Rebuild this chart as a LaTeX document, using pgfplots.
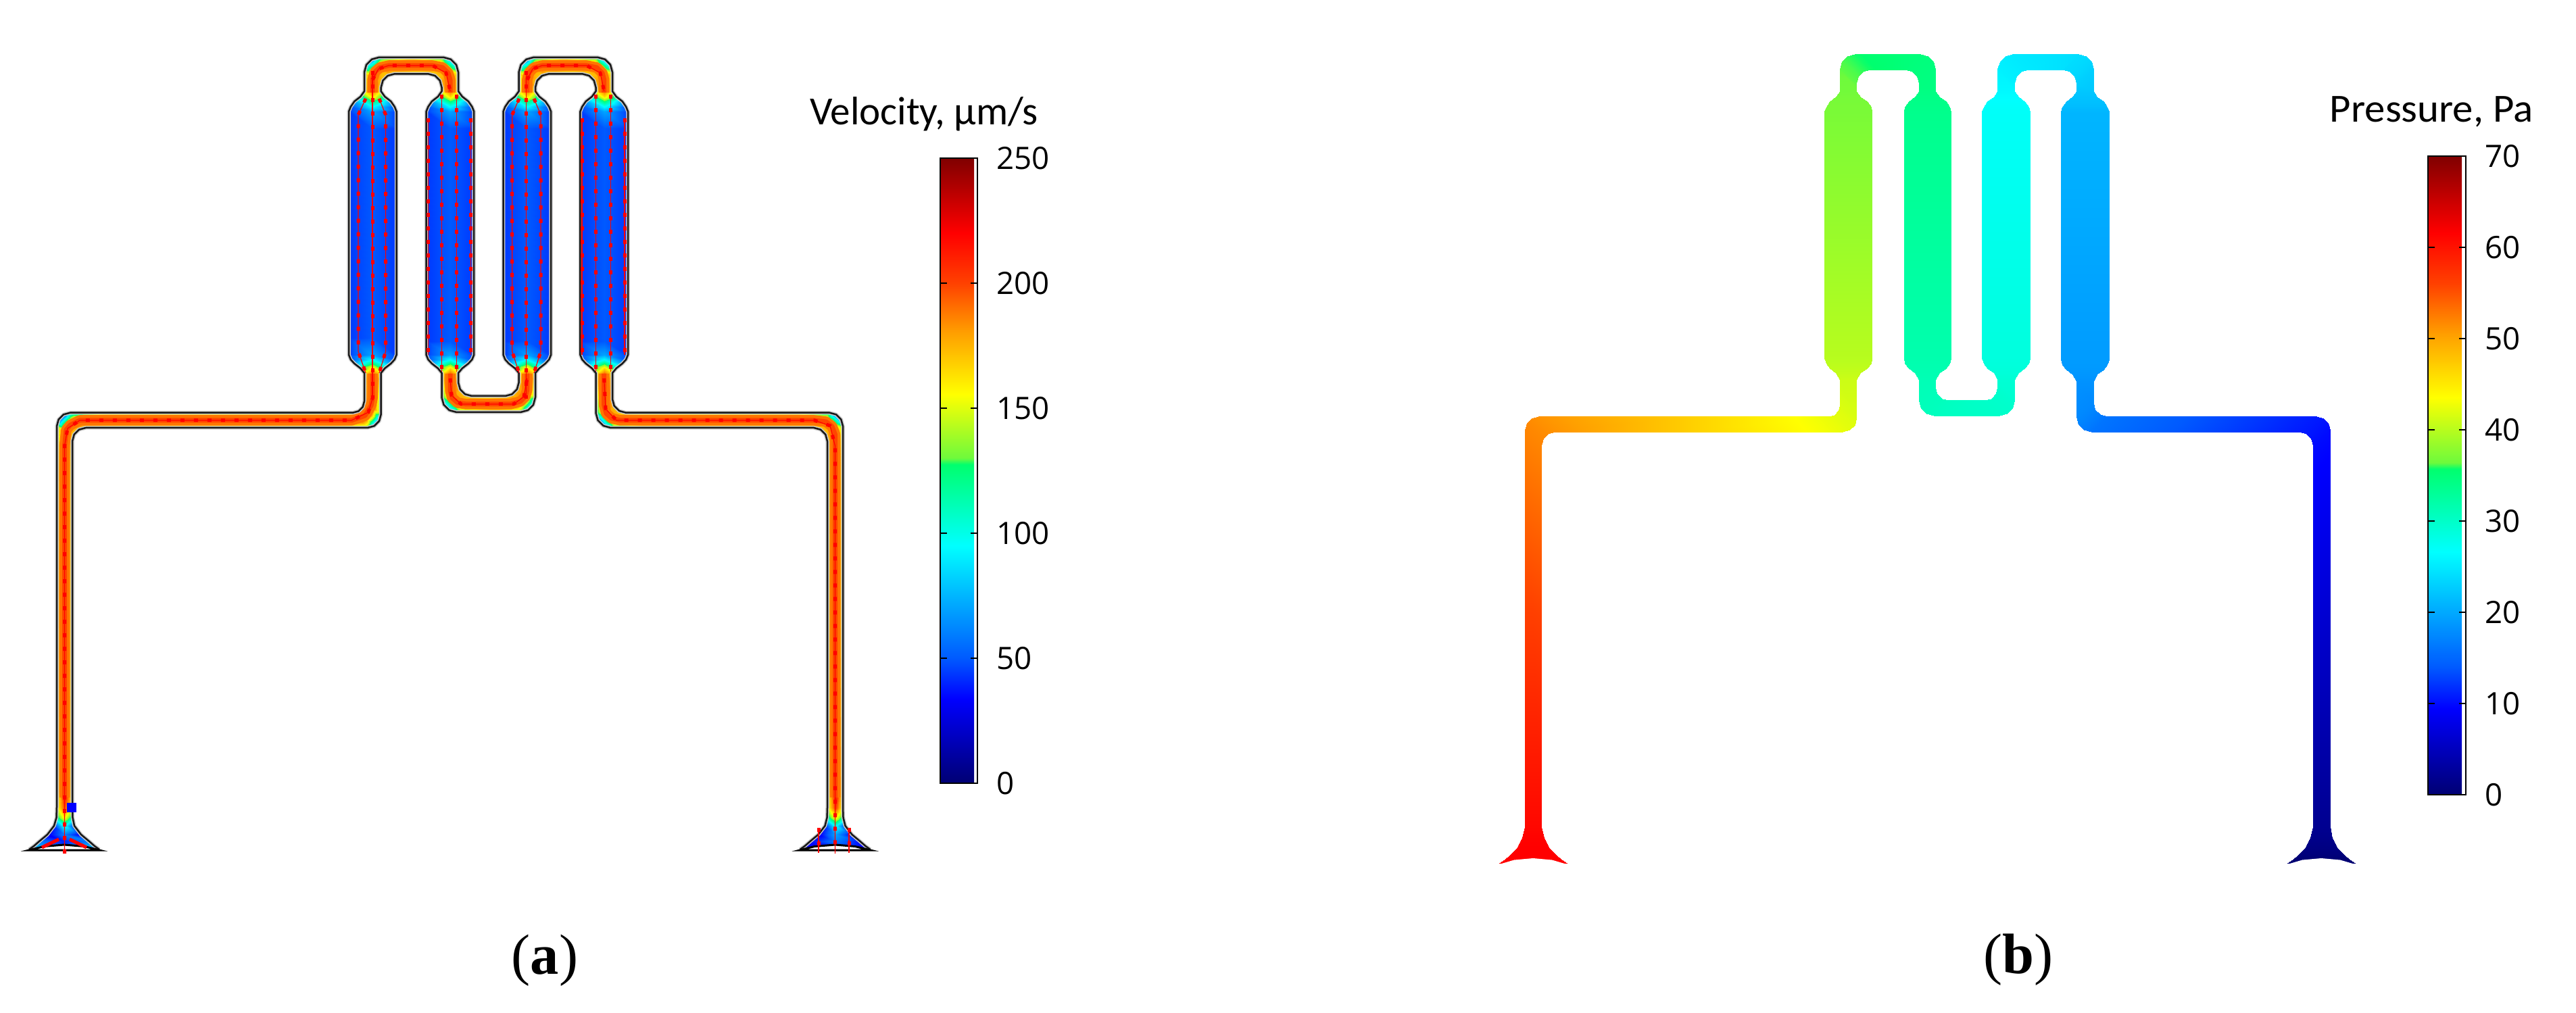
\documentclass[border=0pt]{standalone}
\usepackage{fontspec}
\usepackage{pgfplots}
\usepackage{pgfplotstable}
\pgfplotsset{compat=1.18}
\setmainfont{Open Sans}
\newfontfamily\capf{Carlito}
\newfontfamily\subf{Liberation Serif}

% rainbow
\definecolor{coreO}{RGB}{255,118,0}
\definecolor{coreR}{RGB}{255,70,0}
\newcount\wallk
\pgfplotsset{
  colormap={cbar}{rgb255(0pt)=(0,0,115); rgb255(135pt)=(0,0,255); rgb255(200pt)=(0,90,255);
    rgb255(380pt)=(0,255,255); rgb255(510pt)=(0,255,110); rgb255(520pt)=(110,250,60);
    rgb255(622pt)=(255,255,0); rgb255(720pt)=(255,160,0); rgb255(800pt)=(255,65,0);
    rgb255(880pt)=(255,0,0); rgb255(1000pt)=(128,0,0)},
  page/.style={at={(0,0)},anchor=south west,scale only axis,width=38.11cm,height=14.99cm,
    xmin=0,xmax=3811,ymin=0,ymax=1499,y dir=reverse,hide axis,clip=false},
  bar/.style={at={(parent axis.north west)},anchor=north west,scale only axis,
    tick align=inside,tickpos=both,yticklabel pos=right,major tick length=0.1cm,
    tick style={black,line width=0.6pt},axis line style={black,line width=0.8pt},
    yticklabel style={xshift=0.16cm,font=\fontsize{13}{13}\selectfont,/pgf/number format/assume math mode=true}},
  ribbon/.style={surf,shader=interp,point meta=explicit},
  % keep one wall of the three-column station table
  wall/.style={no marks,line join=round,filter discard warning=false,
    x filter/.code={\wallk=\coordindex\relax\divide\wallk by 3 \multiply\wallk by 3 \advance\wallk by #1\relax
      \ifnum\wallk=\coordindex\relax\else\def\pgfmathresult{}\fi}},
}
\tikzset{
  flow/.style={red,line width=0.012cm,no marks},
  dots/.style={red,line width=0.05cm,no marks,dash pattern=on 0.06cm off 0.14cm},
}
\newcommand{\stream}[1]{\addplot[flow] coordinates {#1};\addplot[dots] coordinates {#1};}
\newcommand{\core}[1]{\addplot[coreO,line width=0.155cm,no marks,line join=round] coordinates {#1};
  \addplot[coreR,line width=0.07cm,no marks,line join=round] coordinates {#1};}

% velocity panel: each row is one station along the channel, wall / centre / wall
\pgfplotstableread[row sep=\\]{
x y m\\
43 1257 25\\ 95 1257 30\\ 147 1257 25\\
50 1252 80\\ 95 1252 40\\ 140 1252 80\\
58 1245 60\\ 95 1245 40\\ 132 1245 60\\
70 1235 30\\ 95 1235 60\\ 120 1235 30\\
80 1222 40\\ 95 1222 100\\ 110 1222 40\\
83.5 1210 110\\ 95.5 1210 160\\ 107.5 1210 110\\
84 1195 150\\ 95.5 1195 200\\ 107 1195 150\\
84 1170 155\\ 95.5 1170 220\\ 107 1170 155\\
84 690 155\\ 95.5 690 205\\ 107 690 155\\
84 630.7 140\\ 95.5 641.85 203\\ 107 653 165\\
86.7 620.7 50\\ 98.2 631.85 185\\ 109.7 643 170\\
94 613.4 40\\ 105.5 624.55 185\\ 117 635.7 170\\
104 610.7 90\\ 115.5 621.85 203\\ 127 633 165\\
160 610.7 155\\ 160 621.85 202\\ 160 633 155\\
480 610.7 155\\ 480 621.85 202\\ 480 633 155\\
522 610.7 160\\ 532.85 621.85 202\\ 543.7 633 130\\
530.5 608.4 175\\ 542.1 619.35 190\\ 553.7 630.3 60\\
536.7 602.2 175\\ 548.85 612.6 190\\ 561 623 50\\
539 593.7 175\\ 551.35 603.35 203\\ 563.7 613 120\\
539 560 165\\ 551.3 560 208\\ 563.6 560 165\\
539 552 160\\ 551.3 552 190\\ 563.6 552 160\\
533.3 545 110\\ 551.3 545 165\\ 569.3 545 110\\
524.3 538 70\\ 551.3 538 125\\ 578.3 538 70\\
518.8 532 48\\ 551.3 532 95\\ 583.8 532 48\\
516 525 44\\ 551.3 525 70\\ 586.6 525 44\\
516 500 44\\ 551.3 500 50\\ 586.6 500 44\\
516 190 44\\ 551.3 190 50\\ 586.6 190 44\\
516 165 44\\ 551.3 165 70\\ 586.6 165 44\\
518.8 158 48\\ 551.3 158 95\\ 583.8 158 48\\
524.3 150 70\\ 551.3 150 125\\ 578.3 150 70\\
533.3 143 110\\ 551.3 143 165\\ 569.3 143 110\\
539 135 160\\ 551.3 135 190\\ 563.6 135 160\\
539 106.8 150\\ 551.35 118.05 205\\ 563.7 129.3 168\\
542 95.8 80\\ 554.2 107.55 190\\ 566.4 119.3 168\\
550 87.8 60\\ 561.85 99.9 180\\ 573.7 112 168\\
561 84.8 110\\ 572.35 97.05 203\\ 583.7 109.3 165\\
612 84.8 155\\ 612 97.05 205\\ 612 109.3 155\\
656 84.8 120\\ 644.75 97.05 205\\ 633.5 109.3 165\\
667 87.8 70\\ 655.25 99.9 185\\ 643.5 112 168\\
675 95.8 80\\ 662.9 107.55 180\\ 650.8 119.3 175\\
678 106.8 150\\ 665.75 118.05 195\\ 653.5 129.3 175\\
678 135 160\\ 665.9 135 190\\ 653.5 135 160\\
683.9 143 110\\ 665.9 143 165\\ 647.9 143 110\\
692.9 150 70\\ 665.9 150 125\\ 638.9 150 70\\
698.4 158 48\\ 665.9 158 95\\ 633.4 158 48\\
701.2 165 44\\ 665.9 165 70\\ 630.6 165 44\\
701.2 190 44\\ 665.9 190 50\\ 630.6 190 44\\
701.2 505 44\\ 665.9 505 50\\ 630.6 505 44\\
701.2 525 44\\ 665.9 525 70\\ 630.6 525 44\\
698.4 532 48\\ 665.9 532 95\\ 633.4 532 48\\
692.9 538 70\\ 665.9 538 125\\ 638.9 538 70\\
683.9 545 110\\ 665.9 545 165\\ 647.9 545 110\\
678 552 160\\ 665.9 552 190\\ 653.5 552 160\\
678 560 165\\ 665.9 560 208\\ 653.5 560 165\\
678 566 175\\ 665.75 577 203\\ 653.5 588 120\\
680.7 576 170\\ 668.6 587.5 185\\ 656.5 599 70\\
688 583.3 170\\ 676.25 595.15 185\\ 664.5 607 70\\
698 586 165\\ 686.75 598 203\\ 675.5 610 120\\
725 586 155\\ 725 598 205\\ 725 610 155\\
747.6 586 165\\ 758.8 598 205\\ 770 610 130\\
757.6 583.3 170\\ 769.3 595.15 190\\ 781 607 80\\
764.9 576 175\\ 776.95 587.5 190\\ 789 599 70\\
767.6 566 175\\ 779.8 577 203\\ 792 588 130\\
767.6 560 165\\ 779.8 560 208\\ 792 560 165\\
767.6 552 160\\ 779.8 552 190\\ 792 552 160\\
761.8 545 110\\ 779.8 545 165\\ 797.8 545 110\\
752.8 538 70\\ 779.8 538 125\\ 806.8 538 70\\
747.3 532 48\\ 779.8 532 95\\ 812.3 532 48\\
744.5 525 44\\ 779.8 525 70\\ 815.1 525 44\\
744.5 505 44\\ 779.8 505 50\\ 815.1 505 44\\
744.5 190 44\\ 779.8 190 50\\ 815.1 190 44\\
744.5 165 44\\ 779.8 165 70\\ 815.1 165 44\\
747.3 158 48\\ 779.8 158 95\\ 812.3 158 48\\
752.8 150 70\\ 779.8 150 125\\ 806.8 150 70\\
761.8 143 110\\ 779.8 143 165\\ 797.8 143 110\\
767.6 135 160\\ 779.8 135 190\\ 792 135 160\\
767.6 106.8 150\\ 779.8 118.05 205\\ 792 129.3 168\\
770.6 95.8 80\\ 782.65 107.55 190\\ 794.7 119.3 168\\
778.6 87.8 60\\ 790.3 99.9 180\\ 802 112 168\\
789.6 84.8 110\\ 800.8 97.05 203\\ 812 109.3 165\\
838 84.8 155\\ 838 97.05 205\\ 838 109.3 155\\
884 84.8 120\\ 872.75 97.05 205\\ 861.5 109.3 165\\
895 87.8 70\\ 883.25 99.9 185\\ 871.5 112 168\\
903 95.8 80\\ 890.9 107.55 180\\ 878.8 119.3 175\\
906 106.8 150\\ 893.75 118.05 195\\ 881.5 129.3 175\\
906 135 160\\ 893.7 135 190\\ 881.5 135 160\\
911.7 143 110\\ 893.7 143 165\\ 875.7 143 110\\
920.7 150 70\\ 893.7 150 125\\ 866.7 150 70\\
926.2 158 48\\ 893.7 158 95\\ 861.2 158 48\\
929 165 44\\ 893.7 165 70\\ 858.4 165 44\\
929 190 44\\ 893.7 190 50\\ 858.4 190 44\\
929 505 44\\ 893.7 505 50\\ 858.4 505 44\\
929 525 44\\ 893.7 525 70\\ 858.4 525 44\\
926.2 532 48\\ 893.7 532 95\\ 861.2 532 48\\
920.7 538 70\\ 893.7 538 125\\ 866.7 538 70\\
911.7 545 110\\ 893.7 545 165\\ 875.7 545 110\\
906 552 160\\ 893.7 552 190\\ 881.5 552 160\\
906 560 165\\ 893.7 560 208\\ 881.5 560 165\\
906 590.7 175\\ 893.75 600.85 203\\ 881.5 611 110\\
908.7 600.7 170\\ 896.6 611.35 185\\ 884.5 622 50\\
916 608 170\\ 904.25 619 185\\ 892.5 630 60\\
926 610.7 165\\ 914.75 621.85 203\\ 903.5 633 110\\
950 610.7 155\\ 950 621.85 204\\ 950 633 155\\
1180 610.7 155\\ 1180 621.85 204\\ 1180 633 155\\
1227 610.7 110\\ 1215.5 621.85 203\\ 1204 633 165\\
1237 613.4 50\\ 1225.5 624.55 185\\ 1214 635.7 170\\
1244.3 620.7 60\\ 1232.8 631.85 185\\ 1221.3 643 170\\
1247 630.7 130\\ 1235.5 641.85 203\\ 1224 653 165\\
1247 690 155\\ 1235.5 690 205\\ 1224 690 155\\
1247 1170 155\\ 1235.5 1170 220\\ 1224 1170 155\\
1247 1195 150\\ 1235.5 1195 205\\ 1224 1195 150\\
1247.5 1210 110\\ 1235.5 1210 160\\ 1223.5 1210 110\\
1250.5 1222 40\\ 1235.5 1222 100\\ 1220.5 1222 40\\
1260.5 1235 30\\ 1235.5 1235 70\\ 1210.5 1235 30\\
1272.5 1245 35\\ 1235.5 1245 60\\ 1198.5 1245 35\\
1280.5 1252 30\\ 1235.5 1252 45\\ 1190.5 1252 30\\
1287.5 1257 20\\ 1235.5 1257 30\\ 1183.5 1257 20\\
}\chanA

% pressure panel: each row is one station along the channel, wall / wall
\pgfplotstableread[row sep=\\]{
x y m\\
2218 1277 61.6\\ 2318 1277 61.6\\
2226 1272 61.6\\ 2310 1272 61.6\\
2234 1265 61.6\\ 2302 1265 61.6\\
2244 1255 61.6\\ 2292 1255 61.6\\
2252 1240 61.4\\ 2284 1240 61.4\\
2256 1223 61\\ 2280 1223 61\\
2256 636 52\\ 2280 659 52\\
2258.7 626 51.8\\ 2282.7 649 51.8\\
2266 618.7 51.5\\ 2290 641.7 51.5\\
2276 616 51.2\\ 2300 639 51.2\\
2500 616 47\\ 2500 639 47\\
2705 616 42.5\\ 2726.4 639 42.5\\
2713.5 613.7 42.2\\ 2736.4 636.3 42.2\\
2719.7 607.5 42\\ 2743.7 629 42\\
2722 599 41.7\\ 2746.4 619 41.7\\
2722.3 562 41\\ 2746.4 562 41\\
2716 552 40.6\\ 2752 552 40.6\\
2707 545 40.4\\ 2762 545 40.4\\
2701.5 538 40.2\\ 2767.5 538 40.2\\
2699.4 530 40\\ 2769.4 530 40\\
2699.4 165 37\\ 2769.4 165 37\\
2701.5 158 37\\ 2767.5 158 37\\
2707 150 36.9\\ 2762 150 36.9\\
2716 143 36.8\\ 2752 143 36.8\\
2722.3 135 36.6\\ 2746.4 135 36.6\\
2722.3 101.7 36.3\\ 2746 123 36.3\\
2725.3 90.7 36.2\\ 2748.7 113 36.2\\
2733.3 82.7 36\\ 2756 105.7 36\\
2744.3 79.7 35.8\\ 2766 103 35.8\\
2819 79.7 35\\ 2819 103 35\\
2840.5 79.7 34.9\\ 2819 103 34.9\\
2851.5 82.7 34.8\\ 2829 105.7 34.8\\
2859.5 90.7 34.7\\ 2836.3 113 34.7\\
2862.5 101.7 34.6\\ 2838.9 123 34.6\\
2862.5 135 34.4\\ 2838.9 135 34.4\\
2869 143 34.2\\ 2833 143 34.2\\
2878.5 150 34.1\\ 2823.5 150 34.1\\
2884 158 34\\ 2818 158 34\\
2885.9 165 33.8\\ 2816.5 165 33.8\\
2885.9 530 31.7\\ 2816.5 530 31.7\\
2884 538 31.6\\ 2818 538 31.6\\
2878.5 545 31.5\\ 2823.5 545 31.5\\
2869 552 31.4\\ 2833 552 31.4\\
2862.5 562 31.2\\ 2838.9 562 31.2\\
2862.5 572.5 31\\ 2838.9 593.4 31\\
2865.2 582.5 30.9\\ 2841.9 604.4 30.9\\
2872.5 589.8 30.8\\ 2849.9 612.4 30.8\\
2882.5 592.5 30.6\\ 2860.9 615.4 30.6\\
2935.4 592.5 30\\ 2958 615.4 30\\
2945.4 589.8 29.9\\ 2969 612.4 29.9\\
2952.7 582.5 29.8\\ 2977 604.4 29.8\\
2955.4 572.5 29.6\\ 2980 593.4 29.6\\
2955.4 562 29.3\\ 2980 562 29.3\\
2949.5 552 29\\ 2985.5 552 29\\
2940 545 28.9\\ 2995 545 28.9\\
2934.5 538 28.8\\ 3000.5 538 28.8\\
2932.4 530 28.7\\ 3002.5 530 28.7\\
2932.4 165 27\\ 3002.5 165 27\\
2934.5 158 26.9\\ 3000.5 158 26.9\\
2940 150 26.7\\ 2995 150 26.7\\
2949.5 143 26.5\\ 2985.5 143 26.5\\
2955.4 135 26.2\\ 2980 135 26.2\\
2955.4 101.7 25.6\\ 2980 123 25.6\\
2958.4 90.7 25.4\\ 2982.7 113 25.4\\
2966.4 82.7 25.2\\ 2990 105.7 25.2\\
2977.4 79.7 25\\ 3000 103 25\\
3052 79.7 24.3\\ 3052 103 24.3\\
3074.6 79.7 24\\ 3052 103 24\\
3085.6 82.7 23.8\\ 3062 105.7 23.8\\
3093.6 90.7 23.5\\ 3069.3 113 23.5\\
3096.6 101.7 23\\ 3071.9 123 23\\
3096.6 135 22.3\\ 3071.9 135 22.3\\
3102 143 22\\ 3066 143 22\\
3111.5 150 21.8\\ 3056.5 150 21.8\\
3117 158 21.5\\ 3051 158 21.5\\
3119.6 165 21\\ 3048.4 165 21\\
3119.6 532 19\\ 3048.4 532 19\\
3117 540 18.9\\ 3051 540 18.9\\
3111.5 547 18.8\\ 3056.5 547 18.8\\
3102 554 18.6\\ 3066 554 18.6\\
3096.6 564 18.3\\ 3071.9 564 18.3\\
3096.6 596.2 17.6\\ 3071.9 617.2 17.6\\
3099.3 606.2 17.2\\ 3074.9 628.2 17.2\\
3106.6 613.5 16.6\\ 3082.9 636.2 16.6\\
3116.6 616.2 16\\ 3093.9 639.2 16\\
3426.8 616.2 10.8\\ 3402 639.2 10.8\\
3436.8 618.9 10.6\\ 3412 641.9 10.6\\
3444.1 626.2 10.3\\ 3419.3 649.2 10.3\\
3446.8 636.2 10\\ 3422 659.2 10\\
3446.5 1223 2\\ 3421.5 1223 2\\
3450 1240 1.5\\ 3418 1240 1.5\\
3458 1255 1\\ 3410 1255 1\\
3468 1265 0.5\\ 3400 1265 0.5\\
3476 1272 0\\ 3392 1272 0\\
3484 1277 0\\ 3384 1277 0\\
}\chanB

\begin{document}
\begin{tikzpicture}
\useasboundingbox (0,0) rectangle (38.11,14.99);
% (a) velocity
\begin{axis}[page,point meta min=0,point meta max=250,colormap name=cbar,colorbar,
  colorbar style={bar,xshift=13.61cm,yshift=-2.34cm,width=0.55cm,height=9.25cm,ytick={0,50,100,150,200,250}}]
  \addplot[ribbon,mesh/cols=3] table[x=x,y=y,meta=m] {\chanA};
  % orange band with a redder core in the narrow channels
  \core{(95.5,1180) (95.5,660) (98,636) (104,629) (118,622) (520,622) (540,615) (549,600) (551,590) (551,553)}
  \core{(551,137) (551,118) (555,106) (562,100) (575,97) (640,97) (655,100) (663,108) (666,118) (666,137)}
  \core{(666,553) (666,578) (669,589) (677,596) (690,598) (755,598) (770,594) (777,587) (779.8,577) (779.8,553)}
  \core{(779.8,137) (779.8,118) (783,107) (790,100) (802,97) (868,97) (883,100) (891,108) (893.7,118) (893.7,137)}
  \core{(893.7,553) (893.7,600) (897,612) (905,619) (918,622) (1205,622) (1222,624) (1231,631) (1235.5,643) (1235.5,1180)}
  % channel walls, grey halo under a dark line
  \addplot[gray!40,line width=0.055cm,wall=0] table[x=x,y=y] {\chanA};
  \addplot[gray!40,line width=0.055cm,wall=2] table[x=x,y=y] {\chanA};
  \addplot[black!90,line width=0.025cm,wall=0] table[x=x,y=y] {\chanA};
  \addplot[black!90,line width=0.025cm,wall=2] table[x=x,y=y] {\chanA};
  % port caps
  \addplot[fill=white,draw=black,line width=0.03cm] coordinates {(43,1258) (65,1252.5) (95,1250) (125,1252.5) (147,1258)} -- cycle;
  \addplot[fill=white,draw=black,line width=0.03cm] coordinates {(1183.5,1258) (1205,1252.5) (1235.5,1250) (1265,1252.5) (1287.5,1258)} -- cycle;
  % streamlines in the chambers
  \stream{(541,146) (530,170) (530,520) (541,552)}
  \stream{(551,105) (551,590)}
  \stream{(561,146) (570.6,170) (570.6,520) (561,552)}
  \stream{(633.7,175) (633.7,525)}
  \stream{(653.8,140) (653.8,550)}
  \stream{(675.6,140) (675.6,550)}
  \stream{(696.8,175) (696.8,525)}
  \stream{(768,146) (757.7,170) (757.7,520) (768,552)}
  \stream{(778.4,105) (778.4,590)}
  \stream{(790,146) (800,170) (800,520) (790,552)}
  \stream{(861,175) (861,525)}
  \stream{(881.7,140) (881.7,550)}
  \stream{(903.5,140) (903.5,550)}
  \stream{(924,175) (924,525)}
  % streamlines in the narrow channels
  \stream{(95.5,1263) (95.5,660) (100,634) (118,622) (520,622) (545,610) (551,590)}
  \stream{(551,118) (560,102) (575,97) (640,97) (660,108) (666,135)}
  \stream{(666,560) (668,585) (682,598) (760,598) (775,587) (779.8,560)}
  \stream{(779.8,118) (788,102) (802,97) (868,97) (888,108) (893.7,135)}
  \stream{(893.7,560) (896,605) (912,622) (1205,622) (1228,630) (1235.5,660) (1235.5,1263)}
  \stream{(1211,1225) (1211,1262)}
  \stream{(1256,1225) (1256,1262)}
  \addplot[red,line width=0.05cm,no marks] coordinates {(62,1254) (87,1242)};
  \addplot[red,line width=0.05cm,no marks] coordinates {(103,1242) (128,1254)};
  \addplot[blue,only marks,mark=square*,mark size=0.06cm,mark options={draw=blue,fill=blue}] coordinates {(106,1195)};
  \node[font=\capf\fontsize{16.8}{16.8}\selectfont,anchor=base] at (axis cs:1367,185) {Velocity, µm/s};
  \node[font=\subf\fontsize{24}{24}\selectfont,anchor=base] at (axis cs:806,1441) {(\textbf{a})};
\end{axis}
% (b) pressure
\begin{axis}[page,point meta min=0,point meta max=70,colormap name=cbar,colorbar,
  colorbar style={bar,xshift=35.62cm,yshift=-2.31cm,width=0.56cm,height=9.45cm,ytick={0,10,20,30,40,50,60,70}}]
  \addplot[ribbon,mesh/cols=2] table[x=x,y=y,meta=m] {\chanB};
  \addplot[fill=white,draw=none] coordinates {(2218,1279) (2240,1272.5) (2268,1270) (2296,1272.5) (2318,1279)} -- cycle;
  \addplot[fill=white,draw=none] coordinates {(3384,1279) (3406,1272.5) (3434,1270) (3462,1272.5) (3484,1279)} -- cycle;
  \node[font=\capf\fontsize{16.8}{16.8}\selectfont,xscale=1.03,anchor=base] at (axis cs:3597,181) {Pressure, Pa};
  \node[font=\subf\fontsize{24}{24}\selectfont,anchor=base] at (axis cs:2986,1440) {(\textbf{b})};
\end{axis}
\end{tikzpicture}
\end{document}
